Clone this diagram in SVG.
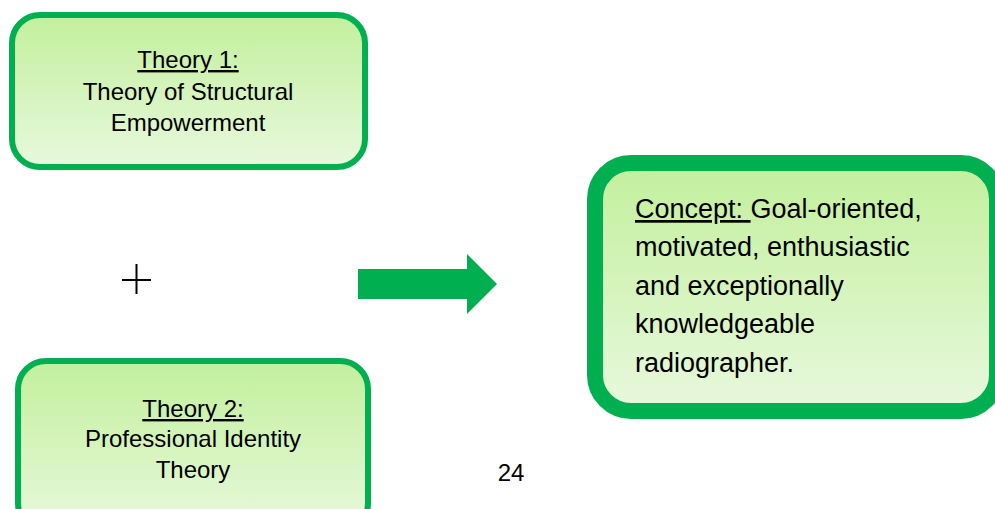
<svg xmlns="http://www.w3.org/2000/svg" width="995" height="509" viewBox="0 0 995 509">
<defs>
<linearGradient id="g" x1="0" y1="0" x2="0" y2="1">
<stop offset="0" stop-color="#c2f09c"/>
<stop offset="1" stop-color="#e8f8dd"/>
</linearGradient>
<style>
.box{fill:url(#g);stroke:#00b050}
.t{font-family:"Liberation Sans",Arial,sans-serif;fill:#000}
.c{text-anchor:middle;font-size:24px}
.u{text-decoration:underline}
</style>
</defs>
<rect width="995" height="509" fill="#fff"/>
<g id="theory1">
<rect class="box" x="12" y="15" width="353" height="152" rx="28" stroke-width="6"/>
<text class="t c" x="188" y="68"><tspan class="u">Theory 1:</tspan></text>
<text class="t c" x="188" y="100">Theory of Structural</text>
<text class="t c" x="188" y="131">Empowerment</text>
</g>
<g id="theory2">
<rect class="box" x="18" y="361" width="350" height="170" rx="28" stroke-width="6"/>
<text class="t c" x="193" y="417"><tspan class="u">Theory 2:</tspan></text>
<text class="t c" x="193" y="447">Professional Identity</text>
<text class="t c" x="193" y="478">Theory</text>
</g>
<g id="plus">
<path d="M122 280H151M136.5 264V294" stroke="#000" stroke-width="2" fill="none"/>
</g>
<g id="concept">
<rect class="box" x="595" y="163" width="402" height="248" rx="36" stroke-width="16"/>
<text class="t" x="635" y="218" font-size="27"><tspan class="u">Concept: </tspan>Goal-oriented,</text>
<text class="t" x="635" y="256" font-size="27">motivated, enthusiastic</text>
<text class="t" x="635" y="295" font-size="27">and exceptionally</text>
<text class="t" x="635" y="333" font-size="27">knowledgeable</text>
<text class="t" x="635" y="372" font-size="27">radiographer.</text>
</g>
<g id="connectors">
<path d="M358 269H467V254L497 284L467 314V299H358Z" fill="#00b050"/>
</g>
<text class="t c" x="511" y="481">24</text>
</svg>
